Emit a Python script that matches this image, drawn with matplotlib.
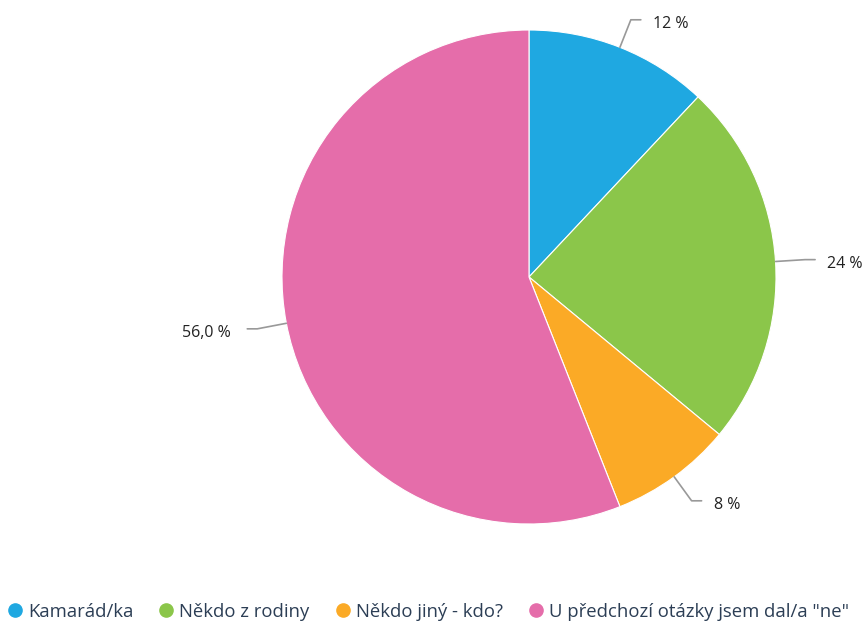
import numpy as np
import matplotlib.pyplot as plt
from matplotlib.lines import Line2D

plt.rcParams['font.family'] = ['Open Sans', 'DejaVu Sans']

# data
categories = ["Kamarád/ka", "Někdo z rodiny", "Někdo jiný - kdo?", 'U předchozí otázky jsem dal/a "ne"']
values = [12, 24, 8, 56]
value_labels = ["12 %", "24 %", "8 %", "56,0 %"]
colors = ["#1fa8e1", "#8bc64a", "#fbaa26", "#e56daa"]

W, H = 864, 625
fig = plt.figure(figsize=(W / 100, H / 100), dpi=100)
ax = fig.add_axes([0, 0, 1, 1])

cx, cy, r = 529, H - 277, 247
wedges, _ = ax.pie(values, colors=colors, startangle=90, counterclock=False,
                   center=(cx, cy), radius=r, frame=True,
                   wedgeprops=dict(edgecolor="white", linewidth=0.8))
ax.set_xlim(0, W)
ax.set_ylim(0, H)
ax.set_aspect("equal")
ax.axis("off")

# leader lines + value labels
for w, lab in zip(wedges, value_labels):
    ang = np.deg2rad((w.theta1 + w.theta2) / 2)
    x0, y0 = cx + r * np.cos(ang), cy + r * np.sin(ang)
    x1, y1 = cx + 1.12 * r * np.cos(ang), cy + 1.12 * r * np.sin(ang)
    side = 1 if np.cos(ang) >= 0 else -1
    x2 = x1 + side * 10
    ax.plot([x0, x1, x2], [y0, y1, y1], color="#999999", lw=1.2,
            solid_capstyle="round", solid_joinstyle="round")
    gap = 12 if side > 0 else 17
    ax.text(x2 + side * gap, y1 - 4, lab, ha="left" if side > 0 else "right",
            va="center", fontsize=11.5, color="#222222")

handles = [Line2D([], [], marker="o", ls="", markersize=9.5, markerfacecolor=c,
                  markeredgecolor=c) for c in colors]
fig.legend(handles, categories, loc="center left", bbox_to_anchor=(-0.002, 0.021),
           ncol=4, frameon=False, fontsize=13.3, handletextpad=0.2,
           columnspacing=1.3, labelcolor="#2c3e55", borderaxespad=0, handlelength=1.0)

fig.savefig("out.png", dpi=100)
